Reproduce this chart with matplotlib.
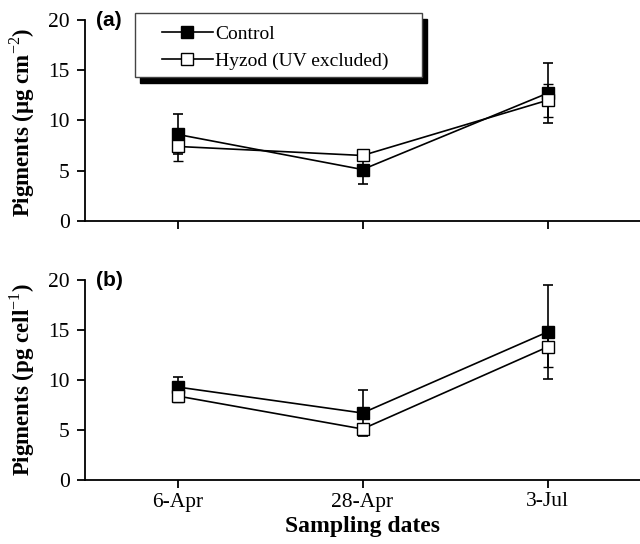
#!/usr/bin/env python3
"""Pigment content under control vs. Hyzod (UV excluded) across sampling dates."""

import matplotlib
matplotlib.use("Agg")
import matplotlib.pyplot as plt
from matplotlib.patches import Rectangle
from matplotlib.lines import Line2D

plt.rcParams['font.family'] = ['Liberation Serif', 'DejaVu Serif']
plt.rcParams['mathtext.fontset'] = 'custom'
plt.rcParams['mathtext.rm'] = 'Liberation Serif'
plt.rcParams['mathtext.bf'] = 'Liberation Serif:bold'

# Data
dates = ['6-Apr', '28-Apr', '3-Jul']
x_pos = [1, 2, 3]

a_control = [8.6, 5.1, 12.7]
a_control_err = [2.0, 1.45, 3.0]
a_hyzod = [7.4, 6.5, 12.0]
a_hyzod_err = [1.5, 0.4, 1.65]

b_control = [9.3, 6.7, 14.8]
b_control_err = [1.0, 2.3, 4.7]
b_hyzod = [8.4, 5.1, 13.3]
b_hyzod_err = [0.6, 0.5, 2.0]

W, H = 640, 544
fig = plt.figure(figsize=(6.4, 5.44), dpi=100)

ax1 = fig.add_axes([85 / W, 1 - 220.7 / H, 555 / W, 200.7 / H])
ax2 = fig.add_axes([85 / W, 1 - 480 / H, 555 / W, 200 / H])


def draw_panel(ax, ctrl, ctrl_err, hyz, hyz_err):
    ax.errorbar(x_pos, ctrl, yerr=ctrl_err, color='black', lw=1.2,
                marker='s', ms=8, mfc='black', mec='black',
                capsize=3.6, elinewidth=1.2, capthick=1.2, zorder=3)
    ax.errorbar(x_pos, hyz, yerr=hyz_err, color='black', lw=1.2,
                marker='s', ms=8, mfc='white', mec='black', mew=1.0,
                capsize=3.6, elinewidth=1.2, capthick=1.2, zorder=4)
    ax.set_xlim(0.5, 3.5)
    ax.set_ylim(0, 20)
    ax.set_yticks([0, 5, 10, 15, 20])
    ax.set_xticks(x_pos)
    for s in ['top', 'right']:
        ax.spines[s].set_visible(False)
    for s in ['left', 'bottom']:
        ax.spines[s].set_linewidth(1.3)
    ax.tick_params(direction='out', length=6, width=1.3, labelsize=15.5, pad=5)
    ax.tick_params(axis='x', pad=3)


draw_panel(ax1, a_control, a_control_err, a_hyzod, a_hyzod_err)
draw_panel(ax2, b_control, b_control_err, b_hyzod, b_hyzod_err)

ax1.set_xticklabels([])
ax2.set_xticklabels(dates)

ax1.set_ylabel(r'Pigments ($\mathbf{\mu}$g cm$^{-2}$)', fontsize=16.5, fontweight='bold')
ax2.set_ylabel(r'Pigments (pg cell$^{-1}$)', fontsize=16.5, fontweight='bold')
ax1.yaxis.set_label_coords(-0.087, 0.49)
ax2.yaxis.set_label_coords(-0.087, 0.5)

ax2.set_xlabel('Sampling dates', fontsize=17, fontweight='bold', labelpad=3)

ax1.text(96 / W, 1 - 20 / H, '(a)', transform=fig.transFigure, fontsize=15,
         fontweight='bold', family='Liberation Sans', ha='left', va='center')
ax2.text(96 / W, 1 - 280 / H, '(b)', transform=fig.transFigure, fontsize=15,
         fontweight='bold', family='Liberation Sans', ha='left', va='center')

# Legend box with hard drop shadow
fig.patches.append(Rectangle((140 / W, 1 - 83 / H), 287 / W, 64 / H,
                             transform=fig.transFigure, facecolor='black',
                             edgecolor='black', zorder=1))
fig.patches.append(Rectangle((135 / W, 1 - 77 / H), 287 / W, 64 / H,
                             transform=fig.transFigure, facecolor='white',
                             edgecolor='#444444', lw=1.0, zorder=2))

handles = [
    Line2D([], [], color='black', lw=1.2, marker='s', ms=8, mfc='black', mec='black'),
    Line2D([], [], color='black', lw=1.2, marker='s', ms=8, mfc='white', mec='black'),
]
fig.legend(handles, ['Control', 'Hyzod (UV excluded)'], loc='upper left',
           bbox_to_anchor=(162 / W, 1 - 25 / H), bbox_transform=fig.transFigure,
           frameon=False, borderpad=0, borderaxespad=0, fontsize=14,
           handlelength=2.6, handletextpad=0.15, labelspacing=0.5)

fig.savefig('out.png', dpi=100)
